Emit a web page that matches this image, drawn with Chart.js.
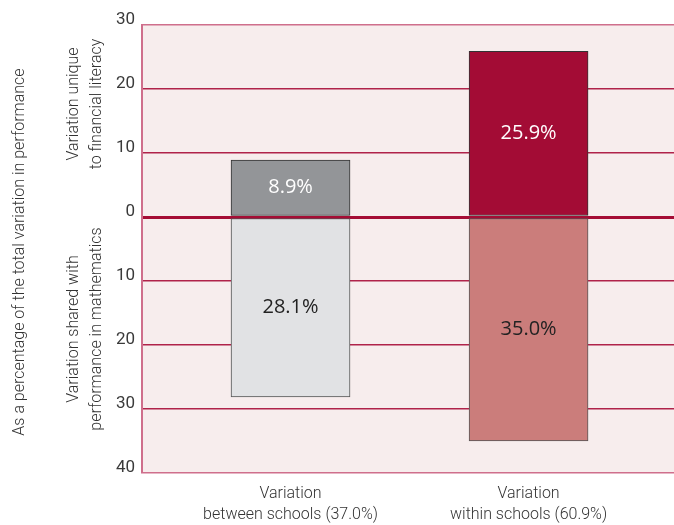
<!DOCTYPE html>
<html>
<head>
<meta charset="utf-8">
<script src="https://cdn.jsdelivr.net/npm/chart.js@4"></script>
<style>
  html, body { margin: 0; padding: 0; background: #ffffff; }
  #wrap { width: 674px; height: 525px; }
</style>
</head>
<body>
<div id="wrap"><canvas id="chart"></canvas></div>
<script>
// Categories, placed at positions 1 and 2 on a linear x axis
const categories = [
  ["Variation", "between schools (37.0%)"],
  ["Variation", "within schools (60.9%)"]
];
const categoryPositions = [1, 2];

// Percentage of total variation unique to financial literacy (drawn upward)
const uniqueValues = [8.9, 25.9];
// Percentage of total variation shared with mathematics (drawn downward)
const sharedValues = [28.1, 35.0];

const uniqueColors = ["#939598", "#a30c35"];
const sharedColors = ["#e1e2e4", "#cb7d7b"];
const uniqueLabelColors = ["#ffffff", "#ffffff"];
const sharedLabelColors = ["#222222", "#222222"];

const yTickValues = [30, 20, 10, 0, -10, -20, -30, -40];

const textFamily = "'Roboto', sans-serif";

// Value labels inside each bar segment
const valueLabels = {
  id: 'valueLabels',
  afterDatasetsDraw(chart) {
    const ctx = chart.ctx;
    ctx.save();
    ctx.font = "20px 'Open Sans', sans-serif";
    ctx.textAlign = 'center';
    ctx.textBaseline = 'middle';
    chart.data.datasets.forEach((ds, di) => {
      const meta = chart.getDatasetMeta(di);
      meta.data.forEach((bar, i) => {
        const v = Math.abs(ds.data[i].y);
        const c = bar.getCenterPoint();
        ctx.fillStyle = ds.labelColors[i];
        ctx.fillText(v.toFixed(1) + '%', c.x, c.y);
      });
    });
    ctx.restore();
  }
};

// Rotated side titles on the left
const sideTitles = {
  id: 'sideTitles',
  afterDraw(chart) {
    const ctx = chart.ctx;
    const y = chart.scales.y;
    ctx.save();
    ctx.fillStyle = '#333333';
    ctx.textAlign = 'center';
    ctx.textBaseline = 'middle';
    const rot = (text, x, cy, font) => {
      ctx.save();
      ctx.translate(x, cy);
      ctx.rotate(-Math.PI / 2);
      ctx.font = font;
      ctx.fillText(text, 0, 0);
      ctx.restore();
    };
    const f = "300 16px " + textFamily;
    rot("As a percentage of the total variation in performance", 20, 252, f);
    const upMid = (y.getPixelForValue(30) + y.getPixelForValue(0)) / 2 - 17;
    rot("Variation unique", 74, upMid, f);
    rot("to financial literacy", 97, upMid, f);
    const downMid = (y.getPixelForValue(0) + y.getPixelForValue(-40)) / 2 - 16;
    rot("Variation shared with", 74, downMid, f);
    rot("performance in mathematics", 97, downMid, f);
    ctx.restore();
  }
};

// Pink plot background
const plotBackground = {
  id: 'plotBackground',
  beforeDraw(chart) {
    const a = chart.chartArea;
    const ctx = chart.ctx;
    ctx.save();
    ctx.fillStyle = '#f7eded';
    ctx.fillRect(a.left, a.top, a.right - a.left, a.bottom - a.top);
    ctx.restore();
  }
};

new Chart(document.getElementById('chart'), {
  type: 'bar',
  data: {
    datasets: [
      {
        label: 'Variation unique to financial literacy',
        data: categoryPositions.map((x, i) => ({ x: x, y: uniqueValues[i] })),
        backgroundColor: uniqueColors,
        borderColor: '#333333',
        borderWidth: 1,
        borderSkipped: false,
        labelColors: uniqueLabelColors,
        barThickness: 119
      },
      {
        label: 'Variation shared with performance in mathematics',
        data: categoryPositions.map((x, i) => ({ x: x, y: -sharedValues[i] })),
        backgroundColor: sharedColors,
        borderColor: '#555555',
        borderWidth: 1,
        borderSkipped: false,
        labelColors: sharedLabelColors,
        barThickness: 119
      }
    ]
  },
  options: {
    responsive: true,
    maintainAspectRatio: false,
    animation: false,
    layout: { padding: { top: 25, left: 0, right: 0, bottom: 0 } },
    plugins: {
      legend: { display: false },
      tooltip: { enabled: false }
    },
    scales: {
      x: {
        type: 'linear',
        stacked: true,
        offset: false,
        min: 0.376,
        max: 2.611,
        grid: { display: false, drawTicks: false, offset: false },
        border: { display: false },
        afterBuildTicks(scale) {
          scale.ticks = categoryPositions.map(v => ({ value: v }));
        },
        afterFit(scale) { scale.height = 52; },
        ticks: {
          padding: 10,
          color: '#333333',
          font: { family: textFamily, size: 16, weight: 300, lineHeight: 1.35 },
          maxRotation: 0,
          autoSkip: false,
          callback(value) {
            const i = categoryPositions.indexOf(value);
            return i >= 0 ? categories[i] : '';
          }
        }
      },
      y: {
        stacked: true,
        min: -40,
        max: 30,
        afterBuildTicks(scale) {
          scale.ticks = yTickValues.map(v => ({ value: v }));
        },
        afterFit(scale) { scale.width = 142; },
        border: { display: true, color: '#cf6f8c', width: 2 },
        grid: {
          drawTicks: false,
          color(ctx) {
            const v = ctx.tick && ctx.tick.value;
            if (v === 0) return '#a50d35';
            if (v === 30 || v === -40) return '#cf6f8c';
            return '#b0234a';
          },
          lineWidth(ctx) {
            const v = ctx.tick && ctx.tick.value;
            if (v === 0) return 3;
            return 1.5;
          }
        },
        ticks: {
          padding: 7,
          labelOffset: -5,
          color: '#3a3a3a',
          font: { family: textFamily, size: 17, weight: 400 },
          callback(value) { return String(Math.abs(value)); }
        }
      }
    }
  },
  plugins: [plotBackground, valueLabels, sideTitles]
});
</script>
</body>
</html>
